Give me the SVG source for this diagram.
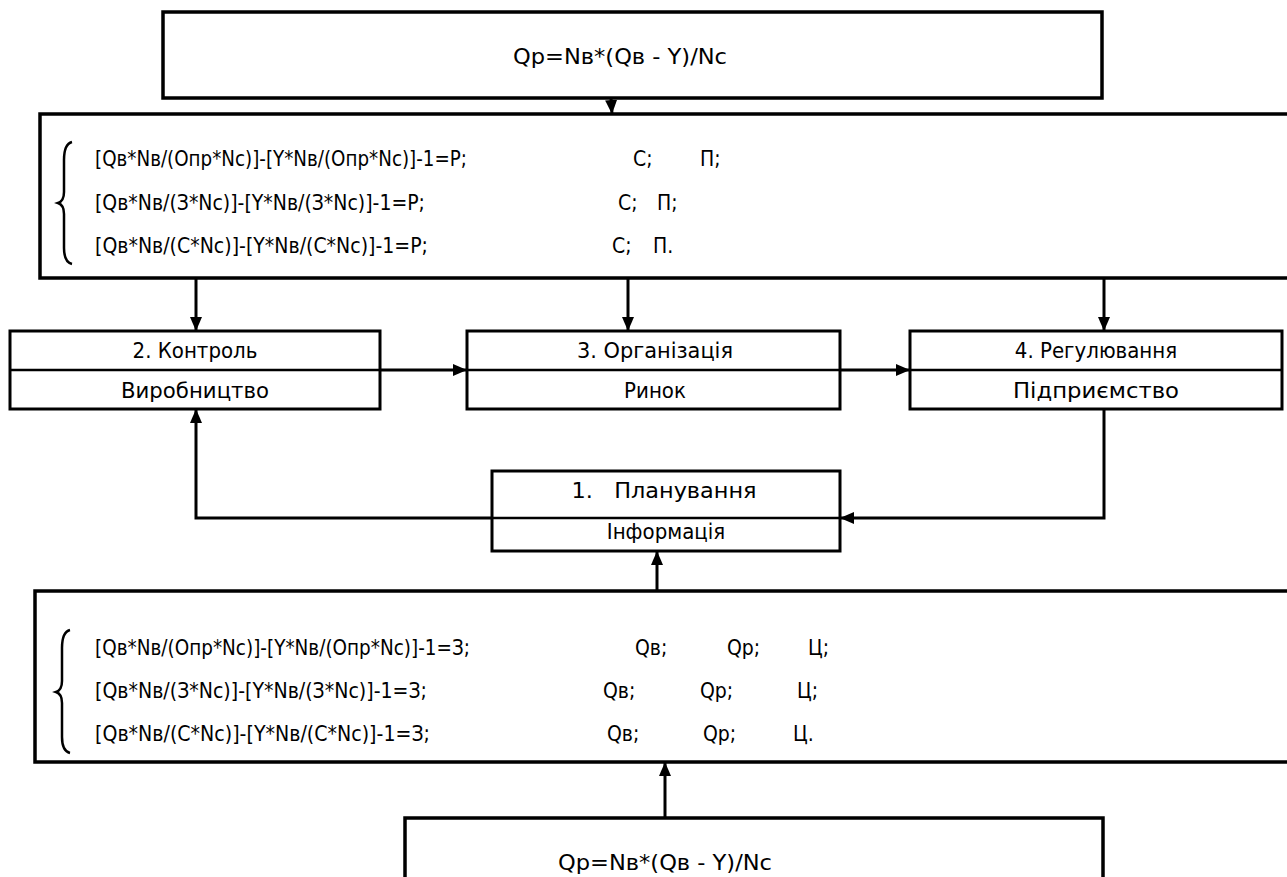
<svg xmlns="http://www.w3.org/2000/svg" width="1287" height="877" viewBox="0 0 1287 877">
<style>
.box{fill:#fff;stroke:#000;stroke-width:3.5}
.nbox{fill:#fff;stroke:#000;stroke-width:3}
.div{stroke:#000;stroke-width:2.5}
.con{fill:none;stroke:#000;stroke-width:3}
text{font-family:"DejaVu Sans Condensed","DejaVu Sans",sans-serif;font-size:21px;fill:#000}
.lbl{font-size:22px}
.big{font-size:22px}
.c{text-anchor:middle}
.brace{fill:none;stroke:#000;stroke-width:2.5}
</style>
<defs>
<marker id="ah" viewBox="0 0 14 12" refX="14" refY="6" markerWidth="14" markerHeight="12" markerUnits="userSpaceOnUse" orient="auto">
<path d="M0,0 L14,6 L0,12 Z" fill="#000"/>
</marker>
</defs>
<rect width="1287" height="877" fill="#fff"/>

<g id="top-formula">
<rect class="box" x="163" y="12" width="939" height="86"/>
<text class="c big" x="620" y="64" textLength="214" lengthAdjust="spacingAndGlyphs">Qp=Nв*(Qв - Y)/Nc</text>
</g>

<g id="formula-system-1">
<rect class="box" x="40" y="114" width="1260" height="164"/>
<path class="brace" d="M72,142 Q64,144 64,160 L64,192 Q64,201 58,203 Q64,205 64,214 L64,248 Q64,262 72,264"/>
<text x="95" y="166" textLength="372" lengthAdjust="spacingAndGlyphs">[Qв*Nв/(Oпр*Nc)]-[Y*Nв/(Oпр*Nc)]-1=P;</text>
<text x="633" y="166">C;</text>
<text x="700" y="166">П;</text>
<text x="95" y="210" textLength="330" lengthAdjust="spacingAndGlyphs">[Qв*Nв/(З*Nc)]-[Y*Nв/(З*Nc)]-1=P;</text>
<text x="618" y="210">C;</text>
<text x="657" y="210">П;</text>
<text x="95" y="253" textLength="333" lengthAdjust="spacingAndGlyphs">[Qв*Nв/(C*Nc)]-[Y*Nв/(C*Nc)]-1=P;</text>
<text x="612" y="253">C;</text>
<text x="653" y="253">П.</text>
</g>

<g id="node-2">
<rect class="nbox" x="10" y="331" width="370" height="78"/>
<line class="div" x1="10" y1="370" x2="380" y2="370"/>
<text class="c lbl" x="195" y="358">2. Контроль</text>
<text class="c lbl" x="195" y="398" textLength="148" lengthAdjust="spacingAndGlyphs">Виробництво</text>
</g>

<g id="node-3">
<rect class="nbox" x="467" y="331" width="373" height="78"/>
<line class="div" x1="467" y1="370" x2="840" y2="370"/>
<text class="c lbl" x="655" y="358" textLength="156" lengthAdjust="spacingAndGlyphs">3. Організація</text>
<text class="c lbl" x="655" y="398">Ринок</text>
</g>

<g id="node-4">
<rect class="nbox" x="910" y="331" width="372" height="78"/>
<line class="div" x1="910" y1="370" x2="1282" y2="370"/>
<text class="c lbl" x="1096" y="358">4. Регулювання</text>
<text class="c lbl" x="1096" y="398" textLength="166" lengthAdjust="spacingAndGlyphs">Підприємство</text>
</g>

<g id="node-1">
<rect class="nbox" x="492" y="471" width="348" height="80"/>
<line class="div" x1="492" y1="518" x2="840" y2="518"/>
<text class="c lbl" x="664" y="498" xml:space="preserve" textLength="185" lengthAdjust="spacingAndGlyphs">1.   Планування</text>
<text class="c lbl" x="666" y="539">Інформація</text>
</g>

<g id="formula-system-2">
<rect class="box" x="35" y="591" width="1265" height="171"/>
<path class="brace" d="M70,630 Q62,632 62,648 L62,681 Q62,690 56,692 Q62,694 62,703 L62,737 Q62,751 70,753"/>
<text x="95" y="655" textLength="375" lengthAdjust="spacingAndGlyphs">[Qв*Nв/(Oпр*Nc)]-[Y*Nв/(Oпр*Nc)]-1=З;</text>
<text x="635" y="655">Qв;</text>
<text x="727" y="655">Qp;</text>
<text x="808" y="655">Ц;</text>
<text x="95" y="698" textLength="332" lengthAdjust="spacingAndGlyphs">[Qв*Nв/(З*Nc)]-[Y*Nв/(З*Nc)]-1=З;</text>
<text x="603" y="698">Qв;</text>
<text x="700" y="698">Qp;</text>
<text x="797" y="698">Ц;</text>
<text x="95" y="741" textLength="335" lengthAdjust="spacingAndGlyphs">[Qв*Nв/(C*Nc)]-[Y*Nв/(C*Nc)]-1=З;</text>
<text x="607" y="741">Qв;</text>
<text x="703" y="741">Qp;</text>
<text x="793" y="741">Ц.</text>
</g>

<g id="bottom-formula">
<rect class="box" x="405" y="818" width="698" height="80"/>
<text class="c big" x="665" y="870" textLength="214" lengthAdjust="spacingAndGlyphs">Qp=Nв*(Qв - Y)/Nc</text>
</g>

<g id="connectors">
<line class="con" x1="611" y1="98" x2="612" y2="114" marker-end="url(#ah)"/>
<line class="con" x1="196" y1="278" x2="196" y2="331" marker-end="url(#ah)"/>
<line class="con" x1="628" y1="278" x2="628" y2="331" marker-end="url(#ah)"/>
<line class="con" x1="1104" y1="278" x2="1104" y2="331" marker-end="url(#ah)"/>
<line class="con" x1="380" y1="370" x2="467" y2="370" marker-end="url(#ah)"/>
<line class="con" x1="840" y1="370" x2="910" y2="370" marker-end="url(#ah)"/>
<polyline class="con" points="492,518 196,518 196,409" marker-end="url(#ah)"/>
<polyline class="con" points="1104,409 1104,518 840,518" marker-end="url(#ah)"/>
<line class="con" x1="657" y1="591" x2="657" y2="551" marker-end="url(#ah)"/>
<line class="con" x1="665" y1="818" x2="665" y2="762" marker-end="url(#ah)"/>
</g>
</svg>
